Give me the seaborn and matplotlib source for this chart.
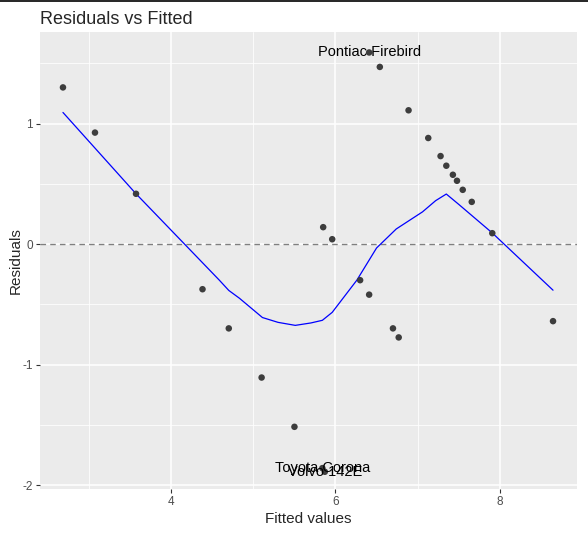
import numpy as np
import pandas as pd
import matplotlib
matplotlib.use("Agg")
import matplotlib.pyplot as plt
import seaborn as sns
from matplotlib.lines import Line2D

# fitted values and residuals
fitted = [2.68, 3.07, 3.57, 4.38, 4.70, 5.10, 5.50, 5.84, 5.87, 6.41,
          6.54, 6.89, 7.13, 7.28, 7.35, 7.43, 7.48, 7.55, 7.66, 7.91,
          5.85, 5.96, 6.30, 6.41, 6.70, 6.77, 8.65]
residuals = [1.30, 0.925, 0.417, -0.375, -0.70, -1.108, -1.517, -1.86, -1.89, 1.59,
             1.47, 1.11, 0.88, 0.73, 0.65, 0.575, 0.525, 0.45, 0.35, 0.09,
             0.14, 0.04, -0.30, -0.42, -0.70, -0.775, -0.64]
names = [""] * 7 + ["Toyota Corona", "Volvo 142E", "Pontiac Firebird"] + [""] * 17

# smoother curve
smooth_x = [2.68, 3.57, 4.585, 4.70, 4.83, 5.11, 5.30, 5.51, 5.70, 5.84, 5.96, 6.26,
            6.50, 6.74, 7.06, 7.22, 7.35, 7.50, 7.91, 8.65]
smooth_y = [1.092, 0.417, -0.30, -0.385, -0.45, -0.61, -0.65, -0.675, -0.655, -0.633, -0.567, -0.30,
            -0.033, 0.125, 0.267, 0.36, 0.415, 0.33, 0.092, -0.383]

df = pd.DataFrame({'fitted': fitted, 'resid': residuals, 'name': names})
sm = pd.DataFrame({'x': smooth_x, 'y': smooth_y})

sns.set_theme(style="darkgrid", rc={
    'axes.facecolor': '#EBEBEB',
    'grid.color': 'white',
    'xtick.color': '#333333',
    'ytick.color': '#333333',
    'xtick.labelcolor': '#4D4D4D',
    'ytick.labelcolor': '#4D4D4D',
    'xtick.bottom': True,
    'ytick.left': True,
    'xtick.major.size': 3,
    'ytick.major.size': 3,
    'xtick.major.width': 0.8,
    'ytick.major.width': 0.8,
    'axes.unicode_minus': False,
})
plt.rcParams['font.family'] = ['Liberation Sans', 'DejaVu Sans']

fig = plt.figure(figsize=(5.88, 5.34), dpi=100)
ax = fig.add_axes([0.068, 0.0843, 0.913, 0.8558])

ax.axhline(0, color='#7F7F7F', linestyle=(0, (4, 3)), linewidth=1, zorder=1)
sns.lineplot(data=sm, x='x', y='y', color='blue', linewidth=0.9, ax=ax, sort=True, zorder=2)
sns.scatterplot(data=df, x='fitted', y='resid', color='#3D3D3D', s=22, edgecolor='none', ax=ax, zorder=3)
for _, r in df[df.name != ""].iterrows():
    ax.text(r.fitted, r.resid, r['name'], ha='center', va='center', fontsize=10.5, color='black', zorder=4)

ax.set_xlim(2.40, 8.94)
ax.set_ylim(-2.033, 1.76)
ax.set_xticks([4, 6, 8])
ax.set_yticks([-2, -1, 0, 1])
ax.set_xticks([3, 5, 7], minor=True)
ax.set_yticks([-1.5, -0.5, 0.5, 1.5], minor=True)
ax.grid(which='major', color='white', linewidth=1.1)
ax.grid(which='minor', color='white', linewidth=0.55)
ax.tick_params(which='minor', length=0)
ax.tick_params(labelsize=8.5, pad=2)
for s in ax.spines.values():
    s.set_visible(False)

ax.set_xlabel('Fitted values', fontsize=11, labelpad=3)
ax.set_ylabel('Residuals', fontsize=11, labelpad=0)
ax.set_title('Residuals vs Fitted', fontsize=13, loc='left', pad=6)

fig.add_artist(Line2D([0, 1], [0.999, 0.999], color='black', linewidth=1.2, transform=fig.transFigure))

plt.savefig('out.png', dpi=100)
